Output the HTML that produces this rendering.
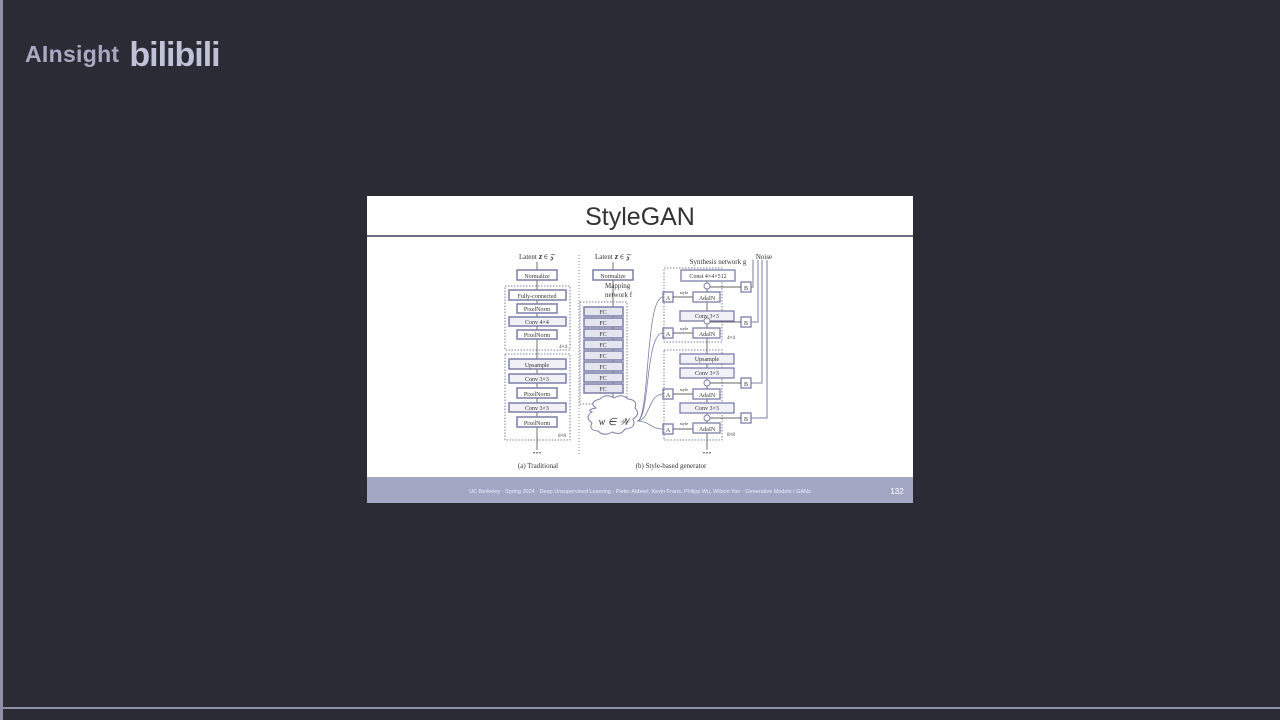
<!DOCTYPE html>
<html><head><meta charset="utf-8"><style>
body{margin:0;width:1280px;height:720px;background:#2b2b36;overflow:hidden;position:relative;font-family:"Liberation Sans",sans-serif}
#lb{position:absolute;left:0;top:0;width:3px;height:720px;background:#8e90a8}
#bb{position:absolute;left:0;top:707px;width:1280px;height:2px;background:#8e90a8}
#logo{position:absolute;left:25px;top:32px;color:#a8aac4;font-size:23px;font-weight:bold;letter-spacing:0.3px}
#logo span{font-size:34px;margin-left:10px;color:#c0c2d8;position:relative;top:4px;letter-spacing:-1px}
svg{position:absolute;left:0;top:0}
</style></head><body>
<div id="lb"></div><div id="bb"></div>
<div id="logo">AInsight<span>bilibili</span></div>
<svg width="1280" height="720" font-family="Liberation Serif, serif">
<rect x="367" y="196" width="546" height="307" fill="#fff"/>
<text x="640" y="225" font-family="Liberation Sans, sans-serif" font-size="25" text-anchor="middle" fill="#333">StyleGAN</text>
<line x1="367" y1="236" x2="913" y2="236" stroke="#3a3f5a" stroke-width="1.5"/>
<rect x="367" y="477" width="546" height="26" fill="#a3a7c4"/>
<text x="640" y="493" font-family="Liberation Sans, sans-serif" font-size="5.5" text-anchor="middle" fill="#eef">UC Berkeley · Spring 2024 · Deep Unsupervised Learning · Pieter Abbeel, Kevin Frans, Philipp Wu, Wilson Yan · Generative Models / GANs</text>
<text x="897" y="494" font-family="Liberation Sans, sans-serif" font-size="8" text-anchor="middle" fill="#fff">132</text>
<g fill="none" stroke="#7b7fa8" stroke-width="1">
<rect x="505" y="286" width="65" height="64" stroke-dasharray="1.5,1.5"/>
<rect x="505" y="354" width="65" height="86" stroke-dasharray="1.5,1.5"/>
<line x1="537" y1="262" x2="537" y2="450" stroke="#333" stroke-width="0.7"/>
<rect x="517" y="270" width="40" height="10" fill="#fff" stroke-width="1.5"/>
<rect x="509" y="290" width="57" height="10" fill="#fff" stroke-width="1.5"/>
<rect x="517" y="304" width="40" height="9" fill="#fff" stroke-width="1.5"/>
<rect x="509" y="317" width="57" height="9" fill="#f0f0f6" stroke-width="1.5"/>
<rect x="517" y="330" width="40" height="9" fill="#fff" stroke-width="1.5"/>
<rect x="509" y="359" width="57" height="10" fill="#f0f0f6" stroke-width="1.5"/>
<rect x="509" y="374" width="57" height="9" fill="#f0f0f6" stroke-width="1.5"/>
<rect x="517" y="388" width="40" height="10" fill="#fff" stroke-width="1.5"/>
<rect x="509" y="403" width="57" height="9" fill="#f0f0f6" stroke-width="1.5"/>
<rect x="517" y="417" width="40" height="10" fill="#fff" stroke-width="1.5"/>
<line x1="579" y1="255" x2="579" y2="455" stroke-dasharray="1,2"/>
<line x1="613" y1="262" x2="613" y2="408" stroke="#333" stroke-width="0.7"/>
<rect x="593" y="270" width="40" height="10" fill="#fff" stroke-width="1.5"/>
<rect x="580" y="302" width="47" height="102" stroke-dasharray="1.5,1.5"/>
<g fill="#e4e5ee" stroke-width="1.5">
<rect x="584" y="307" width="39" height="9"/><rect x="584" y="318" width="39" height="9"/>
<rect x="584" y="329" width="39" height="9"/><rect x="584" y="340" width="39" height="9"/>
<rect x="584" y="351" width="39" height="9"/><rect x="584" y="362" width="39" height="9"/>
<rect x="584" y="373" width="39" height="9"/><rect x="584" y="384" width="39" height="9"/>
</g>
<path d="M596,408 q-8,-6 4,-9 q6,-6 14,-1 q8,-5 14,1 q10,1 7,9 q6,6 -2,11 q4,9 -8,10 q-4,7 -13,3 q-8,5 -14,-1 q-10,-1 -6,-8 q-8,-6 0,-11 q-6,-2 4,-4z" fill="#fff"/>
<path d="M637,421 C650,421 645,297 663,297 M637,421 C650,421 645,333 663,333 M637,421 C650,421 648,394 663,394 M637,421 C650,421 650,429 663,429" stroke-width="0.8"/>
<g fill="#fff" stroke-width="1.3">
<rect x="663" y="292" width="10" height="10"/><rect x="663" y="328" width="10" height="10"/>
<rect x="663" y="389" width="10" height="10"/><rect x="663" y="424" width="10" height="10"/>
</g>
<rect x="664" y="268" width="58" height="74" stroke-dasharray="1.5,1.5"/>
<rect x="664" y="350" width="58" height="90" stroke-dasharray="1.5,1.5"/>
<line x1="707" y1="281" x2="707" y2="450" stroke="#333" stroke-width="0.7"/>
<path d="M673,297 H693 M673,333 H693 M673,394 H693 M673,429 H693" stroke="#333" stroke-width="0.7"/>
<rect x="681" y="270" width="54" height="11" fill="#fff" stroke-width="1.3"/>
<rect x="680" y="311" width="54" height="10" fill="#f0f0f6" stroke-width="1.3"/>
<rect x="680" y="354" width="54" height="10" fill="#f0f0f6" stroke-width="1.3"/>
<rect x="680" y="368" width="54" height="10" fill="#f0f0f6" stroke-width="1.3"/>
<rect x="680" y="403" width="54" height="10" fill="#f0f0f6" stroke-width="1.3"/>
<g fill="#fff" stroke-width="1.3">
<rect x="693" y="292" width="27" height="10"/>
<rect x="693" y="328" width="27" height="10"/>
<rect x="693" y="389" width="27" height="10"/>
<rect x="693" y="423" width="27" height="10"/>
</g>
<g fill="#fff"><circle cx="707" cy="286" r="3"/><circle cx="707" cy="321" r="3"/><circle cx="707" cy="383" r="3"/><circle cx="707" cy="418" r="3"/></g>
<g fill="#fff" stroke-width="1.3">
<rect x="741" y="282" width="10" height="10"/><rect x="741" y="317" width="10" height="10"/>
<rect x="741" y="378" width="10" height="10"/><rect x="741" y="413" width="10" height="10"/>
</g>
<path d="M741,287 H710 M741,322 H710 M741,383 H710 M741,418 H710" stroke="#333" stroke-width="0.7"/>
<path d="M753,260 V287 H751 M758,260 V322 H751 M762,260 V383 H751 M767,260 V418 H751" stroke-width="1"/>
</g>
<g font-size="7" fill="#333" text-anchor="middle">
<text x="537" y="259">Latent 𝐳 ∈ 𝒵</text>
<text x="613" y="259">Latent 𝐳 ∈ 𝒵</text>
<text x="764" y="259">Noise</text>
<text x="718" y="264">Synthesis network g</text>
<text x="605" y="288" text-anchor="start">Mapping</text>
<text x="605" y="297" text-anchor="start">network f</text>
<text x="537" y="278" font-size="6">Normalize</text>
<text x="537" y="298" font-size="6">Fully-connected</text>
<text x="537" y="311" font-size="6">PixelNorm</text>
<text x="537" y="324" font-size="6">Conv 4×4</text>
<text x="537" y="337" font-size="6">PixelNorm</text>
<text x="537" y="367" font-size="6">Upsample</text>
<text x="537" y="381" font-size="6">Conv 3×3</text>
<text x="537" y="396" font-size="6">PixelNorm</text>
<text x="537" y="410" font-size="6">Conv 3×3</text>
<text x="537" y="425" font-size="6">PixelNorm</text>
<text x="563" y="348" font-size="5">4×4</text>
<text x="562" y="437" font-size="5">8×8</text>
<text x="537" y="456" font-size="9" font-weight="bold">···</text>
<text x="538" y="468" font-size="7">(a) Traditional</text>
<text x="613" y="278" font-size="6">Normalize</text>
<g font-size="6"><text x="603" y="314">FC</text><text x="603" y="325">FC</text><text x="603" y="336">FC</text><text x="603" y="347">FC</text><text x="603" y="358">FC</text><text x="603" y="369">FC</text><text x="603" y="380">FC</text><text x="603" y="391">FC</text></g>
<text x="614" y="425" font-size="10" font-style="italic">w ∈ 𝒲</text>
<g font-size="6"><text x="668" y="300">A</text><text x="668" y="336">A</text><text x="668" y="397">A</text><text x="668" y="432">A</text>
<text x="746" y="290">B</text><text x="746" y="325">B</text><text x="746" y="386">B</text><text x="746" y="421">B</text></g>
<g font-size="4.5"><text x="684" y="294">style</text><text x="684" y="330">style</text><text x="684" y="391">style</text><text x="684" y="425">style</text></g>
<text x="708" y="278" font-size="6">Const 4×4×512</text>
<text x="707" y="300" font-size="6">AdaIN</text>
<text x="707" y="318" font-size="6">Conv 3×3</text>
<text x="707" y="336" font-size="6">AdaIN</text>
<text x="707" y="361" font-size="6">Upsample</text>
<text x="707" y="375" font-size="6">Conv 3×3</text>
<text x="707" y="397" font-size="6">AdaIN</text>
<text x="707" y="410" font-size="6">Conv 3×3</text>
<text x="707" y="431" font-size="6">AdaIN</text>
<text x="731" y="339" font-size="5">4×4</text>
<text x="731" y="436" font-size="5">8×8</text>
<text x="707" y="456" font-size="9" font-weight="bold">···</text>
<text x="671" y="468" font-size="7">(b) Style-based generator</text>
</g>
</svg>
</body></html>
